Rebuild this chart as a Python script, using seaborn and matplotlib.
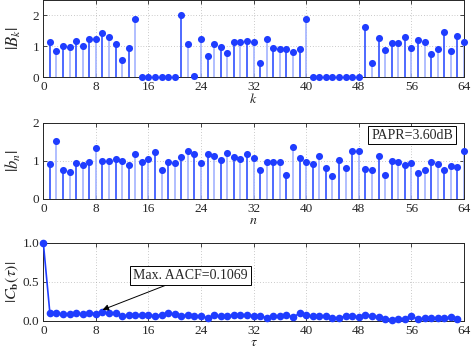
import numpy as np
import pandas as pd
import matplotlib
matplotlib.use("Agg")
import matplotlib.pyplot as plt
import seaborn as sns

# values
k = list(range(1, 65))
B_mag = [1.14, 0.85, 1.00, 0.98, 1.18, 1.01, 1.25, 1.22, 1.44, 1.30,
         1.06, 0.54, 0.95, 1.87, 0, 0, 0, 0, 0, 0,
         2.00, 1.09, 0.04, 1.23, 0.68, 1.08, 0.97, 0.78, 1.14, 1.13,
         1.16, 1.14, 0.46, 1.23, 0.95, 0.90, 0.91, 0.81, 0.91, 1.90,
         0, 0, 0, 0, 0, 0, 0, 0,
         1.61, 0.47, 1.27, 0.89, 1.12, 1.11, 1.30, 0.95, 1.19, 1.13,
         0.75, 0.91, 1.45, 0.86, 1.34, 1.14]

n = list(range(1, 65))
b_mag = [0.93, 1.53, 0.76, 0.71, 0.95, 0.89, 0.96, 1.33, 1.01, 1.00,
         1.04, 0.99, 0.89, 1.17, 0.98, 1.04, 1.23, 0.77, 0.97, 0.95,
         1.10, 1.26, 1.17, 0.94, 1.18, 1.14, 1.02, 1.21, 1.11, 1.05,
         1.17, 1.08, 0.77, 0.97, 0.96, 0.96, 0.62, 1.37, 1.07, 0.98,
         0.93, 1.12, 0.80, 0.61, 1.03, 0.82, 1.27, 1.27, 0.79, 0.75,
         1.12, 0.63, 1.00, 0.97, 0.89, 0.95, 0.68, 0.75, 0.96, 0.93,
         0.77, 0.86, 0.85, 1.25]

tau = list(range(0, 64))
aacf = [1.0, 0.095, 0.095, 0.082, 0.086, 0.095, 0.082, 0.103, 0.090, 0.1069,
        0.095, 0.095, 0.060, 0.073, 0.069, 0.073, 0.069, 0.065, 0.073, 0.095,
        0.086, 0.065, 0.073, 0.060, 0.065, 0.030, 0.073, 0.056, 0.060, 0.073,
        0.080, 0.073, 0.065, 0.060, 0.039, 0.056, 0.065, 0.073, 0.047, 0.095,
        0.069, 0.056, 0.056, 0.065, 0.034, 0.039, 0.060, 0.065, 0.047, 0.073,
        0.060, 0.052, 0.026, 0.013, 0.026, 0.026, 0.060, 0.017, 0.030, 0.039,
        0.030, 0.034, 0.047, 0.017]

papr_text = "PAPR=3.60dB"
aacf_text = "Max. AACF=0.1069"

sns.set_style("ticks")
plt.rcParams["font.family"] = ["Liberation Serif", "DejaVu Serif"]
plt.rcParams["mathtext.fontset"] = "stix"

blue = "#1f3dff"
stem_dark = "#3050ff"
stem_light = "#a3b3ff"

fig = plt.figure(figsize=(4.71, 3.49), dpi=100)
ax1 = fig.add_axes([0.092, 0.779, 0.893, 0.221])
ax2 = fig.add_axes([0.092, 0.430, 0.893, 0.218])
ax3 = fig.add_axes([0.092, 0.081, 0.893, 0.223])


def style(ax, yticks, ylim):
    ax.set_xlim(0, 64)
    ax.set_ylim(*ylim)
    ax.set_xticks(range(0, 65, 8))
    ax.set_yticks(yticks)
    ax.grid(True, linestyle=(0, (1, 3)), color="#9a9a9a", linewidth=0.5)
    ax.tick_params(direction="in", length=3, width=0.6, top=True, right=True,
                   labelsize=9.5, pad=3)
    for s in ax.spines.values():
        s.set_linewidth(0.7)
        s.set_visible(True)
        s.set_zorder(5)


def stems(ax, x, y):
    cols = [stem_dark if i % 2 == 0 else stem_light for i in range(len(x))]
    ax.vlines(x, 0, y, colors=cols, linewidth=1.2, zorder=2)
    sns.scatterplot(x=x, y=y, ax=ax, color=blue, s=26, edgecolor=blue,
                    linewidth=0, zorder=6, legend=False, clip_on=False)


stems(ax1, k, B_mag)
style(ax1, [0, 1, 2], (0, 2.5))
ax1.set_xlabel(r"$k$", fontsize=10, labelpad=-1)
ax1.set_ylabel(r"$|B_k|$", fontsize=12, labelpad=7)

stems(ax2, n, b_mag)
style(ax2, [0, 1, 2], (0, 2))
ax2.set_xlabel(r"$n$", fontsize=10, labelpad=-1)
ax2.set_ylabel(r"$|b_n|$", fontsize=12, labelpad=7)
ax2.text(56.1, 1.68, papr_text, fontsize=10, ha="center", va="center",
         bbox=dict(boxstyle="square,pad=0.2", facecolor="white",
                   edgecolor="black", linewidth=0.7), zorder=7)

df3 = pd.DataFrame({"tau": tau, "aacf": aacf})
sns.lineplot(data=df3, x="tau", y="aacf", ax=ax3, color=blue, linewidth=1.2,
             marker="o", markersize=5.5, markeredgewidth=0, zorder=6,
             clip_on=False)
style(ax3, [0, 0.5, 1], (0, 1))
ax3.set_xlabel(r"$\tau$", fontsize=10, labelpad=-1)
ax3.set_ylabel(r"$|C_{\mathbf{b}}(\tau)|$", fontsize=11.5, labelpad=1)
ax3.annotate(aacf_text, xy=(9, 0.14), xytext=(22.4, 0.58), fontsize=10,
             ha="center", va="center",
             bbox=dict(boxstyle="square,pad=0.2", facecolor="white",
                       edgecolor="black", linewidth=0.7),
             arrowprops=dict(arrowstyle="-|>", color="black", lw=0.7,
                             shrinkA=0, shrinkB=0, mutation_scale=9),
             zorder=7)

fig.savefig("out.png", dpi=100)
